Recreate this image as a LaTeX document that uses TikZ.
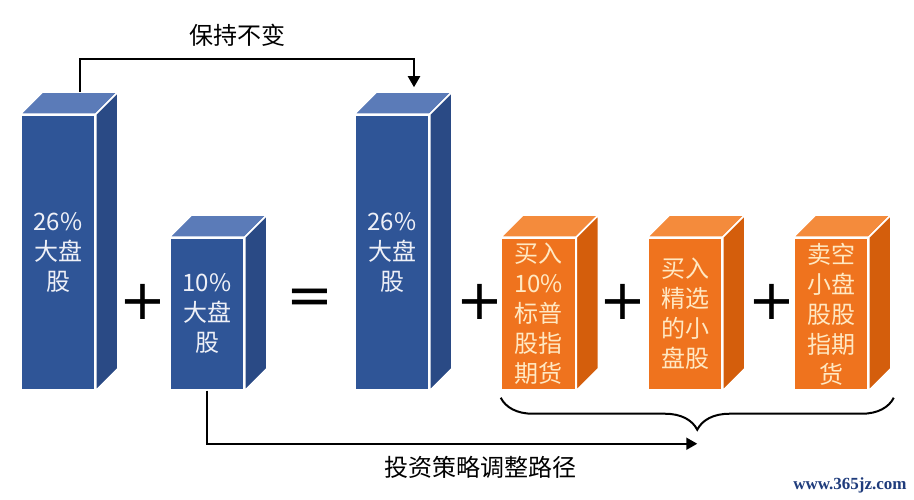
\documentclass[tikz,border=0pt]{standalone}
\usepackage{fontspec}
\setmainfont{Noto Sans CJK SC}
\newfontfamily\signfont{DejaVu Sans}
\newfontfamily\sitefont{Liberation Serif}
\usepackage{tikz}
\usetikzlibrary{arrows,arrows.meta,calc,decorations.pathreplacing}
\definecolor{bluefront}{HTML}{2F5597}
\definecolor{bluetop}{HTML}{5B7BB8}
\definecolor{blueside}{HTML}{2A4A85}
\definecolor{bluetext}{HTML}{EEF0F7}
\definecolor{orangefront}{HTML}{EF731E}
\definecolor{orangetop}{HTML}{F48B3C}
\definecolor{orangeside}{HTML}{D45E0C}
\definecolor{orangetext}{HTML}{FFE8C2}
\definecolor{siteblue}{HTML}{1F3C7C}

\begin{document}
\begin{tikzpicture}[x=1pt,y=1pt,>={Triangle[length=11pt,width=12pt]},line width=2pt,
    box/.style={rectangle,draw=white,line width=1.5pt,minimum width=74pt,inner sep=0pt,
      align=center,font=\fontsize{24}{30}\selectfont},
    tallbox/.style={box,minimum height=275pt},
    lowbox/.style={box,minimum height=152pt},
    bluebox/.style={fill=bluefront,text=bluetext},
    orangebox/.style={fill=orangefront,text=orangetext},
    sign/.style={font=\signfont\fontsize{56}{56}\selectfont,inner sep=0pt},
    caption/.style={font=\fontsize{24}{24}\selectfont,inner sep=0pt}]
\useasboundingbox (0,0) rectangle (914,500);

\node[tallbox,bluebox] (big) at (58,247.5) {26\%\\大盘\\股};
\node[lowbox,bluebox] (small) at (207,186) {10\%\\大盘\\股};
\node[tallbox,bluebox] (result) at (392,247.5) {26\%\\大盘\\股};
\node[lowbox,orangebox] (index) at (538.5,186) {买入\\10\%\\标普\\股指\\期货};
\node[lowbox,orangebox] (pick) at (685,186) {买入\\精选\\的小\\盘股};
\node[lowbox,orangebox] (hedge) at (831,186) {卖空\\小盘\\股股\\指期\\货};

\foreach \b/\c in {big/blue,small/blue,result/blue,index/orange,pick/orange,hedge/orange}{
  \filldraw[fill=\c top,draw=white,line width=1.5pt]
    (\b.north west) -- ++(22,22) -- ($(\b.north east)+(22,22)$) -- (\b.north east) -- cycle;
  \filldraw[fill=\c side,draw=white,line width=1.5pt]
    (\b.north east) -- ++(22,22) -- ($(\b.south east)+(22,22)$) -- (\b.south east) -- cycle;
}

\node[sign] (plusa) at (143,198) {+};
\node[sign] (equal) at (310,198) {=};
\node[sign] (plusb) at (480,198) {+};
\node[sign] (plusc) at (623,198) {+};
\node[sign] (plusd) at (772,198) {+};

\coordinate (bigback) at ($(big.north)+(22,22)$);
\coordinate (resultback) at ($(result.north)+(22,22)$);
\node[caption] (hold) at (237,465) {保持不变};
\draw[->,shorten >=5pt] (bigback) -- ++(0,33) -| (resultback);

\coordinate (braceleft) at ($(index.south west)+(0,-7)$);
\coordinate (braceright) at ($(hedge.south east)+(25,-7)$);
\coordinate (bracetip) at ($(braceleft)!0.5!(braceright)+(0,-46)$);
\draw[decorate,decoration={brace,amplitude=32pt}] (braceright) -- (braceleft);
\node[caption] (adjust) at (480,33) {投资策略调整路径};
\draw[->] (small.south) |- (bracetip);

\node[font=\sitefont\bfseries\fontsize{17}{17}\selectfont,text=siteblue] (site) at (850,15) {www.365jz.com};
\end{tikzpicture}
\end{document}
